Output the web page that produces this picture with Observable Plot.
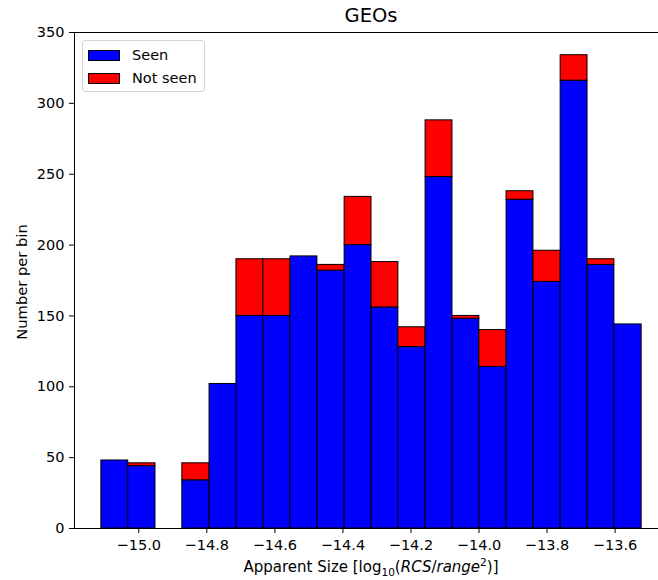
<!DOCTYPE html>
<html>
<head>
<meta charset="utf-8">
<script src="https://cdn.jsdelivr.net/npm/d3@7"></script>
<script src="https://cdn.jsdelivr.net/npm/@observablehq/plot@0.6"></script>
<style>
  html, body { margin: 0; padding: 0; background: white; overflow: hidden; }
  #wrap { position: relative; width: 658px; height: 580px; overflow: hidden; font-family: "DejaVu Sans", sans-serif; color: black; }
  #chart { position: absolute; left: 0; top: 0; width: 668px; }
  #chart svg { max-width: none !important; }
  .title { position: absolute; left: 74px; width: 594px; top: 4px; text-align: center; font-size: 19.5px; line-height: 24px; }
  .xlabel { position: absolute; left: 74px; width: 594px; top: 557px; text-align: center; font-size: 15px; line-height: 20px; white-space: nowrap; }
  .xlabel sub, .xlabel sup { font-size: 10.5px; line-height: 0; }
  .ylabel { position: absolute; left: 22px; top: 282px; font-size: 14.7px; white-space: nowrap; transform: translate(-50%, -50%) rotate(-90deg); line-height: 18px; }
  .legend { position: absolute; left: 82px; top: 40px; width: 121px; height: 50px; border: 1px solid #d4d4d4; border-radius: 3px; background: rgba(255,255,255,0.8); }
  .legend .row { position: absolute; left: 5px; height: 20px; display: flex; align-items: center; font-size: 14.5px; }
  .legend .sw { width: 30px; height: 9px; border: 1px solid black; margin-right: 12px; }
</style>
</head>
<body>
<div id="wrap">
  <div id="chart"></div>
  <div class="title">GEOs</div>
  <div class="ylabel">Number per bin</div>
  <div class="xlabel">Apparent Size [log<sub>10</sub>(<i>RCS</i>/<i>range</i><sup>2</sup>)]</div>
  <div class="legend" id="legend"></div>
</div>
<script>
// Bin edges (log10 RCS/range^2)
const binEdges = [-15.110, -15.031, -14.951, -14.872, -14.792, -14.713, -14.634, -14.554, -14.475, -14.395,
                  -14.316, -14.237, -14.157, -14.078, -13.999, -13.919, -13.840, -13.760, -13.681, -13.602, -13.522];
// Counts per bin
const seenCounts    = [48, 44, 0, 34, 102, 150, 150, 192, 182, 200, 156, 128, 248, 148, 114, 232, 174, 316, 186, 144];
const notSeenCounts = [0, 2, 0, 12, 0, 40, 40, 0, 4, 34, 32, 14, 40, 2, 26, 6, 22, 18, 4, 0];
const seriesNames = ["Seen", "Not seen"];
const seriesColors = ["#0000ff", "#ff0000"];
const xTicks = [-15.0, -14.8, -14.6, -14.4, -14.2, -14.0, -13.8, -13.6];
const yTicks = [0, 50, 100, 150, 200, 250, 300, 350];

const rows = [];
seenCounts.forEach((s, i) => {
  rows.push({x1: binEdges[i], x2: binEdges[i + 1], y1: 0, y2: s, series: seriesNames[0]});
  rows.push({x1: binEdges[i], x2: binEdges[i + 1], y1: s, y2: s + notSeenCounts[i], series: seriesNames[1]});
});

const chart = Plot.plot({
  width: 668,
  height: 580,
  marginTop: 32,
  marginBottom: 52,
  marginLeft: 74,
  marginRight: 0,
  style: {fontFamily: "DejaVu Sans", fontSize: "14.5px", color: "black", background: "white", maxWidth: "none"},
  x: {domain: [-15.189, -13.443]},
  y: {domain: [0, 350]},
  color: {domain: seriesNames, range: seriesColors},
  marks: [
    Plot.rect(rows.filter(d => d.y2 > d.y1), {x1: "x1", x2: "x2", y1: "y1", y2: "y2", fill: "series", stroke: "black", strokeWidth: 1}),
    Plot.axisX({ticks: xTicks, tickFormat: d3.format(".1f"), tickSize: 5, tickPadding: 6, label: null}),
    Plot.axisY({ticks: yTicks, tickSize: 5, tickPadding: 5, label: null}),
    Plot.frame({stroke: "black", strokeWidth: 1})
  ]
});
chart.style.maxWidth = "none";
document.getElementById("chart").appendChild(chart);

const legend = document.getElementById("legend");
seriesNames.forEach((name, i) => {
  const row = document.createElement("div");
  row.className = "row";
  row.style.top = (i === 0 ? 4 : 27) + "px";
  const sw = document.createElement("div");
  sw.className = "sw";
  sw.style.background = seriesColors[i];
  const t = document.createElement("span");
  t.textContent = name;
  row.appendChild(sw);
  row.appendChild(t);
  legend.appendChild(row);
});
</script>
</body>
</html>
